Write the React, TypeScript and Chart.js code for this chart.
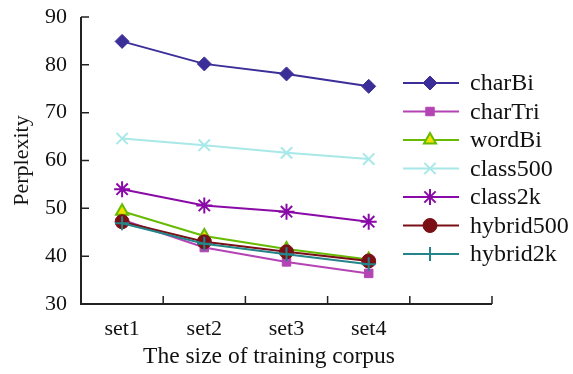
import React, { useEffect, useRef } from "react";
import { Chart, registerables } from "chart.js";
import { drawPoint } from "chart.js/helpers";

Chart.register(...registerables);

const categories = ["set1", "set2", "set3", "set4", ""];
const yTicks = [30, 40, 50, 60, 70, 80, 90];

const seriesNames = ["charBi", "charTri", "wordBi", "class500", "class2k", "hybrid500", "hybrid2k"];
const charBi = [84.9, 80.2, 78.1, 75.5];
const charTri = [47.6, 41.8, 38.8, 36.4];
const wordBi = [49.4, 44.2, 41.5, 39.3];
const class500 = [64.6, 63.2, 61.6, 60.3];
const class2k = [54.0, 50.6, 49.3, 47.2];
const hybrid500 = [47.2, 43.0, 40.9, 39.0];
const hybrid2k = [46.9, 42.6, 40.4, 38.3];

const lineColors = ["#3b2e98", "#b444b4", "#66bb00", "#a8e8e8", "#8a0aa8", "#7a1016", "#23858a"];
const fillColors = ["#3b2e98", "#b444b4", "#f2e000", "#a8e8e8", "#8a0aa8", "#7a1016", "#23858a"];
const pointStyles = ["rectRot", "rect", "triangle", "crossRot", "star", "circle", "cross"];
const pointRadii = [7, 6, 7, 8, 8, 7, 7];
const pointBorders = [1, 1, 2, 2, 2, 1, 2];

const FONT = "'Liberation Serif', 'DejaVu Serif', serif";

export default function App() {
  const ref = useRef<HTMLCanvasElement | null>(null);
  useEffect(() => {
    document.body.style.margin = "0";
    const values = [charBi, charTri, wordBi, class500, class2k, hybrid500, hybrid2k];
    const datasets = seriesNames.map((name, i) => ({
      label: name,
      data: values[i],
      borderColor: lineColors[i],
      backgroundColor: fillColors[i],
      pointBackgroundColor: fillColors[i],
      pointBorderColor: lineColors[i],
      pointStyle: pointStyles[i] as any,
      pointRadius: pointRadii[i],
      pointBorderWidth: pointBorders[i],
      borderWidth: 2,
      order: seriesNames.length - i,
      fill: false,
      tension: 0,
      clip: false,
    }));

    const axesPlugin = {
      id: "axesCustom",
      afterDraw(chart: any) {
        const ctx = chart.ctx;
        const ca = chart.chartArea;
        const x = chart.scales.x;
        const y = chart.scales.y;
        ctx.save();
        ctx.strokeStyle = "#222";
        ctx.lineWidth = 2;
        ctx.beginPath();
        ctx.moveTo(ca.left, ca.top);
        ctx.lineTo(ca.left, ca.bottom);
        ctx.lineTo(ca.right, ca.bottom);
        ctx.stroke();
        ctx.lineWidth = 1.5;
        ctx.beginPath();
        for (const v of yTicks) {
          const py = y.getPixelForValue(v);
          ctx.moveTo(ca.left, py);
          ctx.lineTo(ca.left + 8, py);
        }
        for (let i = 0; i <= categories.length; i++) {
          const px = x.getPixelForValue(i - 0.5);
          ctx.moveTo(px, ca.bottom);
          ctx.lineTo(px, ca.bottom - 8);
        }
        ctx.stroke();
        // titles
        ctx.fillStyle = "#111";
        ctx.font = `23.5px ${FONT}`;
        ctx.textAlign = "center";
        ctx.textBaseline = "middle";
        ctx.fillText("The size of training corpus", 269, 357);
        ctx.save();
        ctx.translate(22, (ca.top + ca.bottom) / 2);
        ctx.rotate(-Math.PI / 2);
        ctx.font = `22px ${FONT}`;
        ctx.fillText("Perplexity", 0, 0);
        ctx.restore();
        // legend
        ctx.textAlign = "left";
        ctx.font = `24px ${FONT}`;
        seriesNames.forEach((name, i) => {
          const ly = 83 + i * 28.5;
          ctx.strokeStyle = lineColors[i];
          ctx.lineWidth = 2;
          ctx.beginPath();
          ctx.moveTo(403, ly);
          ctx.lineTo(459, ly);
          ctx.stroke();
          ctx.fillStyle = fillColors[i];
          ctx.strokeStyle = lineColors[i];
          ctx.lineWidth = pointBorders[i];
          drawPoint(ctx, { pointStyle: pointStyles[i] as any, radius: pointRadii[i], borderWidth: pointBorders[i], rotation: 0 } as any, 430, ly);
          ctx.fillStyle = "#111";
          ctx.fillText(name, 470, ly + 1);
        });
        ctx.restore();
      },
    };

    const chart = new Chart(ref.current!, {
      type: "line",
      data: { labels: categories, datasets: datasets as any },
      options: {
        animation: false,
        responsive: false,
        maintainAspectRatio: false,
        layout: { autoPadding: false, padding: { top: 17, right: 81, left: 0, bottom: 0 } },
        plugins: { legend: { display: false }, tooltip: { enabled: false } },
        scales: {
          x: {
            type: "category",
            offset: true,
            grid: { display: false, drawTicks: false },
            border: { display: false },
            ticks: { color: "#111", font: { family: FONT, size: 22 }, padding: 12, maxRotation: 0, autoSkip: false },
            afterFit: (s: any) => { s.height = 70; s.paddingLeft = 0; s.paddingRight = 0; },
          },
          y: {
            min: 30,
            max: 90,
            grid: { display: false, drawTicks: false },
            border: { display: false },
            ticks: { stepSize: 10, color: "#111", font: { family: FONT, size: 22 }, padding: 14 },
            afterFit: (s: any) => { s.width = 81; s.paddingTop = 0; s.paddingBottom = 0; },
          },
        },
      },
      plugins: [axesPlugin],
    });
    return () => chart.destroy();
  }, []);
  return (
    <div style={{ width: 573, height: 374 }}>
      <canvas ref={ref} width={573} height={374} style={{ display: "block" }} />
    </div>
  );
}
